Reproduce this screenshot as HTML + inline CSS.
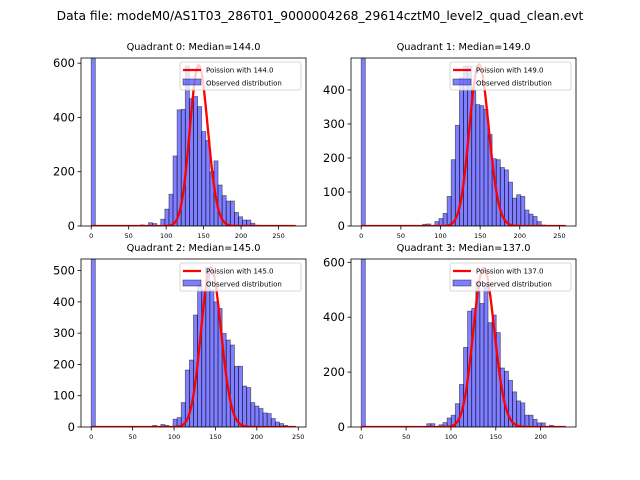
<!DOCTYPE html>
<html><head><meta charset="utf-8"><style>
body{margin:0;background:#fff;}
svg{display:block;font-family:"DejaVu Sans","Liberation Sans",sans-serif;}
</style></head><body>
<svg id="fig" width="640" height="480" viewBox="0 0 640 480">
<text x="320" y="20" text-anchor="middle" font-size="12.3">Data file: modeM0/AS1T03_286T01_9000004268_29614cztM0_level2_quad_clean.evt</text>
</svg>
<script>
// ---- data ----
const quadrantLabels = ["Quadrant 0: Median=144.0","Quadrant 1: Median=149.0","Quadrant 2: Median=145.0","Quadrant 3: Median=137.0"];
const medians = [144, 149, 145, 137];
const dataMax = [273, 258, 247, 228];
const fitPeaks = [592, 475, 510, 580];
const q0Counts = [2000,0,0,0,0,0,0,0,0,0,0,0,4,0,12,9,0,25,62,117,258,428,430,590,469,477,440,348,315,200,240,151,112,92,92,50,34,22,22,10,3,0,0,0,0,0,0,0,0,0];
const q1Counts = [2000,0,0,0,0,0,0,0,0,0,0,0,0,0,0,5,6,0,13,22,37,87,195,296,436,470,470,400,357,354,343,269,198,195,172,165,129,82,92,87,47,35,28,13,3,0,0,0,0,0];
const q2Counts = [2000,0,0,0,0,0,0,0,0,0,0,0,0,0,0,5,0,8,5,0,25,30,78,182,214,358,454,438,510,438,400,379,299,278,262,194,194,131,126,78,67,59,45,43,27,16,11,5,0,0];
const q3Counts = [2000,0,0,0,0,0,0,0,0,0,0,0,0,0,0,0,12,12,0,8,16,33,43,85,155,290,422,432,530,450,517,380,408,344,215,203,170,128,95,88,43,43,28,15,15,0,6,0,0,0];
const allCounts = [q0Counts, q1Counts, q2Counts, q3Counts];
const yTickLists = [[0,200,400,600],[0,100,200,300,400],[0,100,200,300,400,500],[0,200,400,600]];
const xTickLists = [[0,50,100,150,200,250],[0,50,100,150,200,250],[0,50,100,150,200,250],[0,50,100,150,200]];
const yMaxes = [619, 494, 537, 612];

const boxes = [
  {l:81,r:306,t:58,b:226},
  {l:351,r:576,t:58,b:226},
  {l:81,r:306,t:259,b:427},
  {l:351,r:576,t:259,b:427}
];
const NS = "http://www.w3.org/2000/svg";
const svg = document.getElementById('fig');
function mk(tag, attrs, parent){
  const e = document.createElementNS(NS, tag);
  for (const k in attrs) e.setAttribute(k, attrs[k]);
  (parent||svg).appendChild(e);
  return e;
}
function logGamma(z){
  const c=[76.18009172947146,-86.50532032941677,24.01409824083091,-1.231739572450155,0.1208650973866179e-2,-0.5395239384953e-5];
  let x=z,y=z,t=x+5.5; t-=(x+0.5)*Math.log(t); let s=1.000000000190015;
  for(let j=0;j<6;j++){y+=1; s+=c[j]/y;}
  return -t+Math.log(2.5066282746310005*s/x);
}
for (let q=0;q<4;q++){
  const B = boxes[q];
  const counts = allCounts[q];
  const xmax = dataMax[q], nb = counts.length, bw = xmax/nb;
  const x0 = -0.05*xmax, x1 = xmax*1.05;
  const X = v => B.l + (v-x0)/(x1-x0)*(B.r-B.l);
  const Y = v => B.b - Math.min(v, yMaxes[q]*1.2)/yMaxes[q]*(B.b-B.t);
  const g = mk('g', {});
  
  
  const clipId = 'clip'+q;
  const cp = mk('clipPath', {id:clipId}, g);
  mk('rect', {x:B.l, y:B.t, width:B.r-B.l, height:B.b-B.t}, cp);
  const bars = mk('g', {'clip-path':'url(#'+clipId+')'}, g);
  counts.forEach((c,i)=>{
    if (c<=0) return;
    const r = mk('rect', {x:X(i*bw), y:Y(c), width:X((i+1)*bw)-X(i*bw), height:B.b-Y(c), fill:'rgba(0,0,255,0.5)', stroke:'rgba(0,0,0,0.5)', 'stroke-width':0.8}, bars);
    
    
  });
  // poisson fit
  const mu = medians[q];
  const scale = fitPeaks[q]*Math.sqrt(2*Math.PI*mu);
  let d = '';
  for (let k=0;k<=Math.round(xmax);k++){
    const p = Math.exp(k*Math.log(mu) - mu - logGamma(k+1));
    d += (k? 'L':'M') + X(k).toFixed(2) + ',' + Y(scale*p).toFixed(2);
  }
  const line = mk('path', {d:d, fill:'none', stroke:'#ff0000', 'stroke-width':2.3}, bars);
  
  
  // frame
  const fr = mk('rect', {x:B.l, y:B.t, width:B.r-B.l, height:B.b-B.t, fill:'none', stroke:'#000', 'stroke-width':0.8}, g);
  
  
  // ticks
  yTickLists[q].forEach(v=>{
    const y = Y(v);
    mk('line', {x1:B.l-3.5, x2:B.l, y1:y, y2:y, stroke:'#000', 'stroke-width':0.8}, g);
    const t = mk('text', {x:B.l-6, y:y+4, 'text-anchor':'end', 'font-size':11.5}, g);
    t.textContent = v;
    
    
  });
  xTickLists[q].forEach(v=>{
    const x = X(v);
    mk('line', {x1:x, x2:x, y1:B.b, y2:B.b+3.5, stroke:'#000', 'stroke-width':0.8}, g);
    const t = mk('text', {x:x, y:B.b+12, 'text-anchor':'middle', 'font-size':6.5}, g);
    t.textContent = v;
    
    
  });
  // title
  const tt = mk('text', {x:(B.l+B.r)/2, y:B.t-8, 'text-anchor':'middle', 'font-size':9.8}, g);
  tt.textContent = quadrantLabels[q];
  
  
  // legend
  const lg = mk('g', {}, g);
  
  
  const lx = B.r-126, ly = B.t+4;
  mk('rect', {x:lx, y:ly, width:121, height:28, rx:2, fill:'rgba(255,255,255,0.8)', stroke:'#ccc', 'stroke-width':0.8}, lg);
  mk('line', {x1:lx+3, x2:lx+21, y1:ly+8, y2:ly+8, stroke:'#ff0000', 'stroke-width':2.3}, lg);
  const t1 = mk('text', {x:lx+26, y:ly+10.5, 'font-size':7}, lg);
  t1.textContent = 'Poission with ' + mu.toFixed(1);
  
  
  mk('rect', {x:lx+3, y:ly+17, width:18, height:6, fill:'rgba(0,0,255,0.5)', stroke:'rgba(0,0,0,0.5)', 'stroke-width':0.8}, lg);
  const t2 = mk('text', {x:lx+26, y:ly+23.5, 'font-size':7}, lg);
  t2.textContent = 'Observed distribution';
  
  
}
</script>
</body></html>
